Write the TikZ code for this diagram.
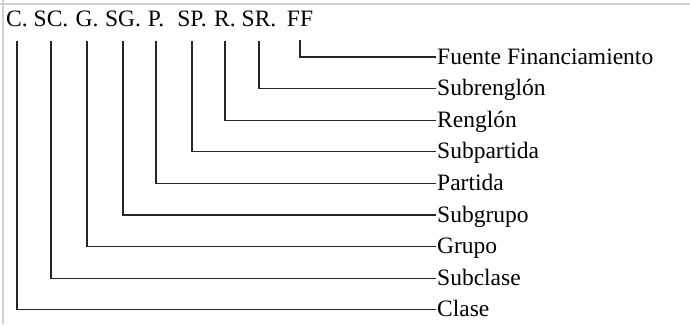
\documentclass[tikz,border=0pt]{standalone}
\usepackage{fontspec}
\setmainfont{Liberation Serif}

\tikzset{
    code/.style={anchor=base, inner sep=1pt, font=\fontsize{23.5}{26}\selectfont},
    label/.style={anchor=west, inner sep=1pt, text height=14pt, text depth=0pt,
        font=\fontsize{23.5}{26}\selectfont},
    leader/.style={line width=1.3pt, black!85, shorten <=12pt}
}

\begin{document}
\begin{tikzpicture}[x=1pt, y=-1pt]
        \def \d {31.6}

        \useasboundingbox (0,0) rectangle (690,324);
        \draw[gray!35, line width=1.5pt] (0,4) -- (690,4);
        \draw[gray!35, line width=1.5pt] (3,0) -- (3,324);

        \node[code] (c)  at (17,27)  {C.};
        \node[code] (sc) at (51,27)  {SC.};
        \node[code] (g)  at (87,27)  {G.};
        \node[code] (sg) at (123,27) {SG.};
        \node[code] (p)  at (156,27) {P.};
        \node[code] (sp) at (192,27) {SP.};
        \node[code] (r)  at (225,27) {R.};
        \node[code] (sr) at (259,27) {SR.};
        \node[code] (ff) at (300,27) {FF};

        \node[label] (lff) at (436,57)      {Fuente Financiamiento};
        \node[label] (lsr) at (436,57+\d)   {Subrenglón};
        \node[label] (lr)  at (436,57+2*\d) {Renglón};
        \node[label] (lsp) at (436,57+3*\d) {Subpartida};
        \node[label] (lp)  at (436,57+4*\d) {Partida};
        \node[label] (lsg) at (436,57+5*\d) {Subgrupo};
        \node[label] (lg)  at (436,57+6*\d) {Grupo};
        \node[label] (lsc) at (436,57+7*\d) {Subclase};
        \node[label] (lc)  at (436,57+8*\d) {Clase};

        \draw[leader] (ff.south) |- (lff.west);
        \draw[leader] (sr.south) |- (lsr.west);
        \draw[leader] (r.south)  |- (lr.west);
        \draw[leader] (sp.south) |- (lsp.west);
        \draw[leader] (p.south)  |- (lp.west);
        \draw[leader] (sg.south) |- (lsg.west);
        \draw[leader] (g.south)  |- (lg.west);
        \draw[leader] (sc.south) |- (lsc.west);
        \draw[leader] (c.south)  |- (lc.west);
    \end{tikzpicture}
\end{document}
